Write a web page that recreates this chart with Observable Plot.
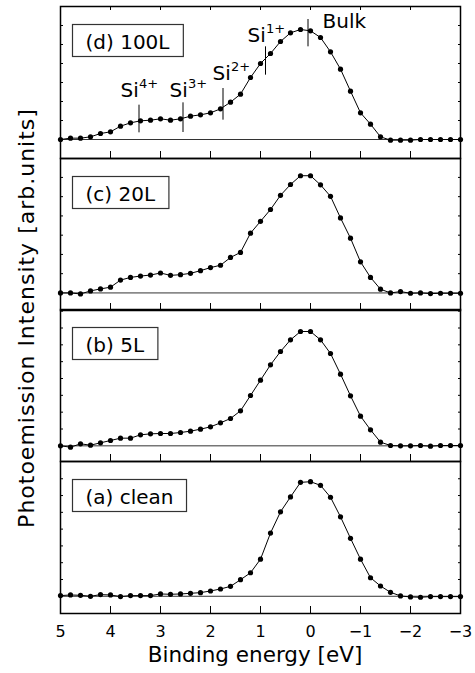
<!DOCTYPE html>
<html><head><meta charset="utf-8">
<script src="https://cdn.jsdelivr.net/npm/d3@7"></script>
<script src="https://cdn.jsdelivr.net/npm/@observablehq/plot@0.6"></script>
<style>
html,body{margin:0;padding:0;background:#fff;}
#wrap{position:relative;width:475px;height:673px;overflow:hidden;font-family:"DejaVu Sans",sans-serif;color:#000;background:#fff;}
.panel{position:absolute;left:0;}
#ylabel{position:absolute;left:27px;top:318px;transform:translate(-50%,-50%) rotate(-90deg);white-space:nowrap;font-size:22px;letter-spacing:1px;line-height:22px;}
#xlabel{position:absolute;left:255px;top:644px;transform:translateX(-50%);white-space:nowrap;font-size:21.5px;line-height:21.5px;}
</style></head>
<body>
<div id="wrap">
  <div id="ylabel">Photoemission Intensity [arb.units]</div>
  <div id="xlabel">Binding energy [eV]</div>
</div>
<script>
// Binding energy of each measured point (eV)
const energy = [5.0,4.8,4.6,4.4,4.2,4.0,3.8,3.6,3.4,3.2,3.0,2.8,2.6,2.4,2.2,2.0,1.8,1.6,1.4,1.2,1.0,0.8,0.6,0.4,0.2,0.0,-0.2,-0.4,-0.6,-0.8,-1.0,-1.2,-1.4,-1.6,-1.8,-2.0,-2.2,-2.4,-2.6,-2.8,-3.0];

// Intensities (arb. units) for each exposure
const int100L = [0,4,4,8,18,23,40,50,56,58,62,58,62,70,74,80,92,112,136,186,228,258,294,320,330,326,306,263,211,145,80,46,8,-2,-2,-2,0,0,0,0,0];
const int20L  = [0,0,-3,6,12,17,38,46,50,53,59,52,54,58,66,75,82,105,120,177,212,247,289,321,347,347,320,286,222,162,92,46,11,0,4,-1,0,-2,-1,-1,-1];
const int5L   = [0,-4,6,2,9,16,23,23,33,36,37,37,40,44,50,57,69,82,105,151,197,243,283,318,343,343,318,277,215,150,89,48,11,1,0,0,1,-1,1,1,1];
const intClean= [2,4,3,0,5,4,-1,2,2,2,7,6,7,9,11,16,22,30,50,71,112,191,255,300,344,346,335,299,240,175,112,56,31,12,1,-2,-3,-1,-1,-1,-1];

const panelLabels = ["(d) 100L","(c) 20L","(b) 5L","(a) clean"];
const xTickValues = [5,4,3,2,1,0,-1,-2,-3];

// Chemical-shift markers in the 100L panel
const ionNames = ["Si","Si","Si","Si","Bulk"];
const ionCharges = ["4+","3+","2+","1+",""];
const ionEnergy = [3.43,2.55,1.75,0.90,0.05];
const ionLineLow = [20,21,58,193,278];
const ionLineHigh = [103,110,153,278,360];
const ionLabelEnergy = [3.80,2.82,1.96,1.26,-0.24];
const ionLabelLevel = [128,128,178,293,336];

const series = [int100L,int20L,int5L,intClean];
const layout = [
  {top:6,   domain:[-57,399], step:57},
  {top:158, domain:[-52,398], step:57},
  {top:309, domain:[-47,409], step:50.5},
  {top:461, domain:[-52,407], step:50.7}
];
const FONT = '"DejaVu Sans", sans-serif';
const wrap = document.getElementById("wrap");

const ions = ionNames.map((n,i)=>({name:n, charge:ionCharges[i], e:ionEnergy[i], lo:ionLineLow[i], hi:ionLineHigh[i], le:ionLabelEnergy[i], ly:ionLabelLevel[i]}));

series.forEach((vals, i) => {
  const L = layout[i];
  const isBottom = i === series.length - 1;
  const data = energy.map((e, j) => ({e, v: vals[j]}));
  const yTicks = d3.range(0, L.domain[1] - 2, L.step);
  const marks = [
    Plot.ruleY([0], {stroke:"#333", strokeWidth:1}),
    Plot.line(data, {x:"e", y:"v", stroke:"#000", strokeWidth:1}),
    Plot.dot(data, {x:"e", y:"v", r:2.6, fill:"#000", stroke:"none"}),
    Plot.axisX(xTickValues, {anchor:"bottom", tickSize:7, dy:-7, fill:"none", label:null}),
    Plot.axisY(yTicks, {anchor:"left", tickSize:3, dx:3, fill:"none", label:null}),
    Plot.axisY(yTicks, {anchor:"right", tickSize:3, dx:-3, fill:"none", label:null}),
    Plot.frame({stroke:"#000", strokeWidth:1.5}),
    Plot.text([panelLabels[i]], {text:d=>d, frameAnchor:"top-left", dx:25, dy:42, lineAnchor:"bottom", textAnchor:"start", fontSize:20, fill:"#000"})
  ];
  if (i === 0) {
    marks.push(Plot.axisX(xTickValues, {anchor:"top", tickSize:3, dy:3, fill:"none", label:null}));
    marks.push(Plot.ruleX(ions, {x:"e", y1:"lo", y2:"hi", stroke:"#000", strokeWidth:1}));
    marks.push(Plot.text(ions, {x:"le", y:"ly", text:"name", textAnchor:"start", lineAnchor:"bottom", fontSize:20, fill:"#000"}));
    marks.push(Plot.text(ions, {x:"le", y:"ly", text:"charge", textAnchor:"start", lineAnchor:"bottom", dx:18.5, dy:-9, fontSize:13, fill:"#000"}));
  }
  if (isBottom) {
    marks.push(Plot.axisX(xTickValues, {anchor:"bottom", tickSize:0, tickPadding:12, fontSize:16, fill:"#000", label:null}));
  }
  const svg = Plot.plot({
    width:475,
    height: 152 + (isBottom ? 60 : 0),
    marginLeft:60, marginRight:15, marginTop:0, marginBottom: isBottom ? 60 : 0,
    x:{domain:[5,-3], axis:null},
    y:{domain:L.domain, axis:null},
    style:{fontFamily:FONT, fontSize:"16px", background:"transparent", overflow:"visible", color:"#000"},
    marks
  });
  const holder = document.createElement("div");
  holder.className = "panel";
  holder.style.top = L.top + "px";
  holder.appendChild(svg);
  wrap.insertBefore(holder, wrap.firstChild);
  // box around the panel label
  const t = Array.from(svg.querySelectorAll("text")).find(el => el.textContent === panelLabels[i]);
  if (t) {
    const bb = t.getBBox();
    const r = document.createElementNS("http://www.w3.org/2000/svg","rect");
    r.setAttribute("x", bb.x - 13);
    r.setAttribute("y", bb.y - 5);
    r.setAttribute("width", bb.width + 26);
    r.setAttribute("height", bb.height + 8);
    r.setAttribute("fill", "#fff");
    r.setAttribute("stroke", "#333");
    r.setAttribute("stroke-width", "1.2");
    const tr = t.getAttribute("transform");
    if (tr) r.setAttribute("transform", tr);
    t.parentNode.insertBefore(r, t);
  }
});
</script>
</body></html>
